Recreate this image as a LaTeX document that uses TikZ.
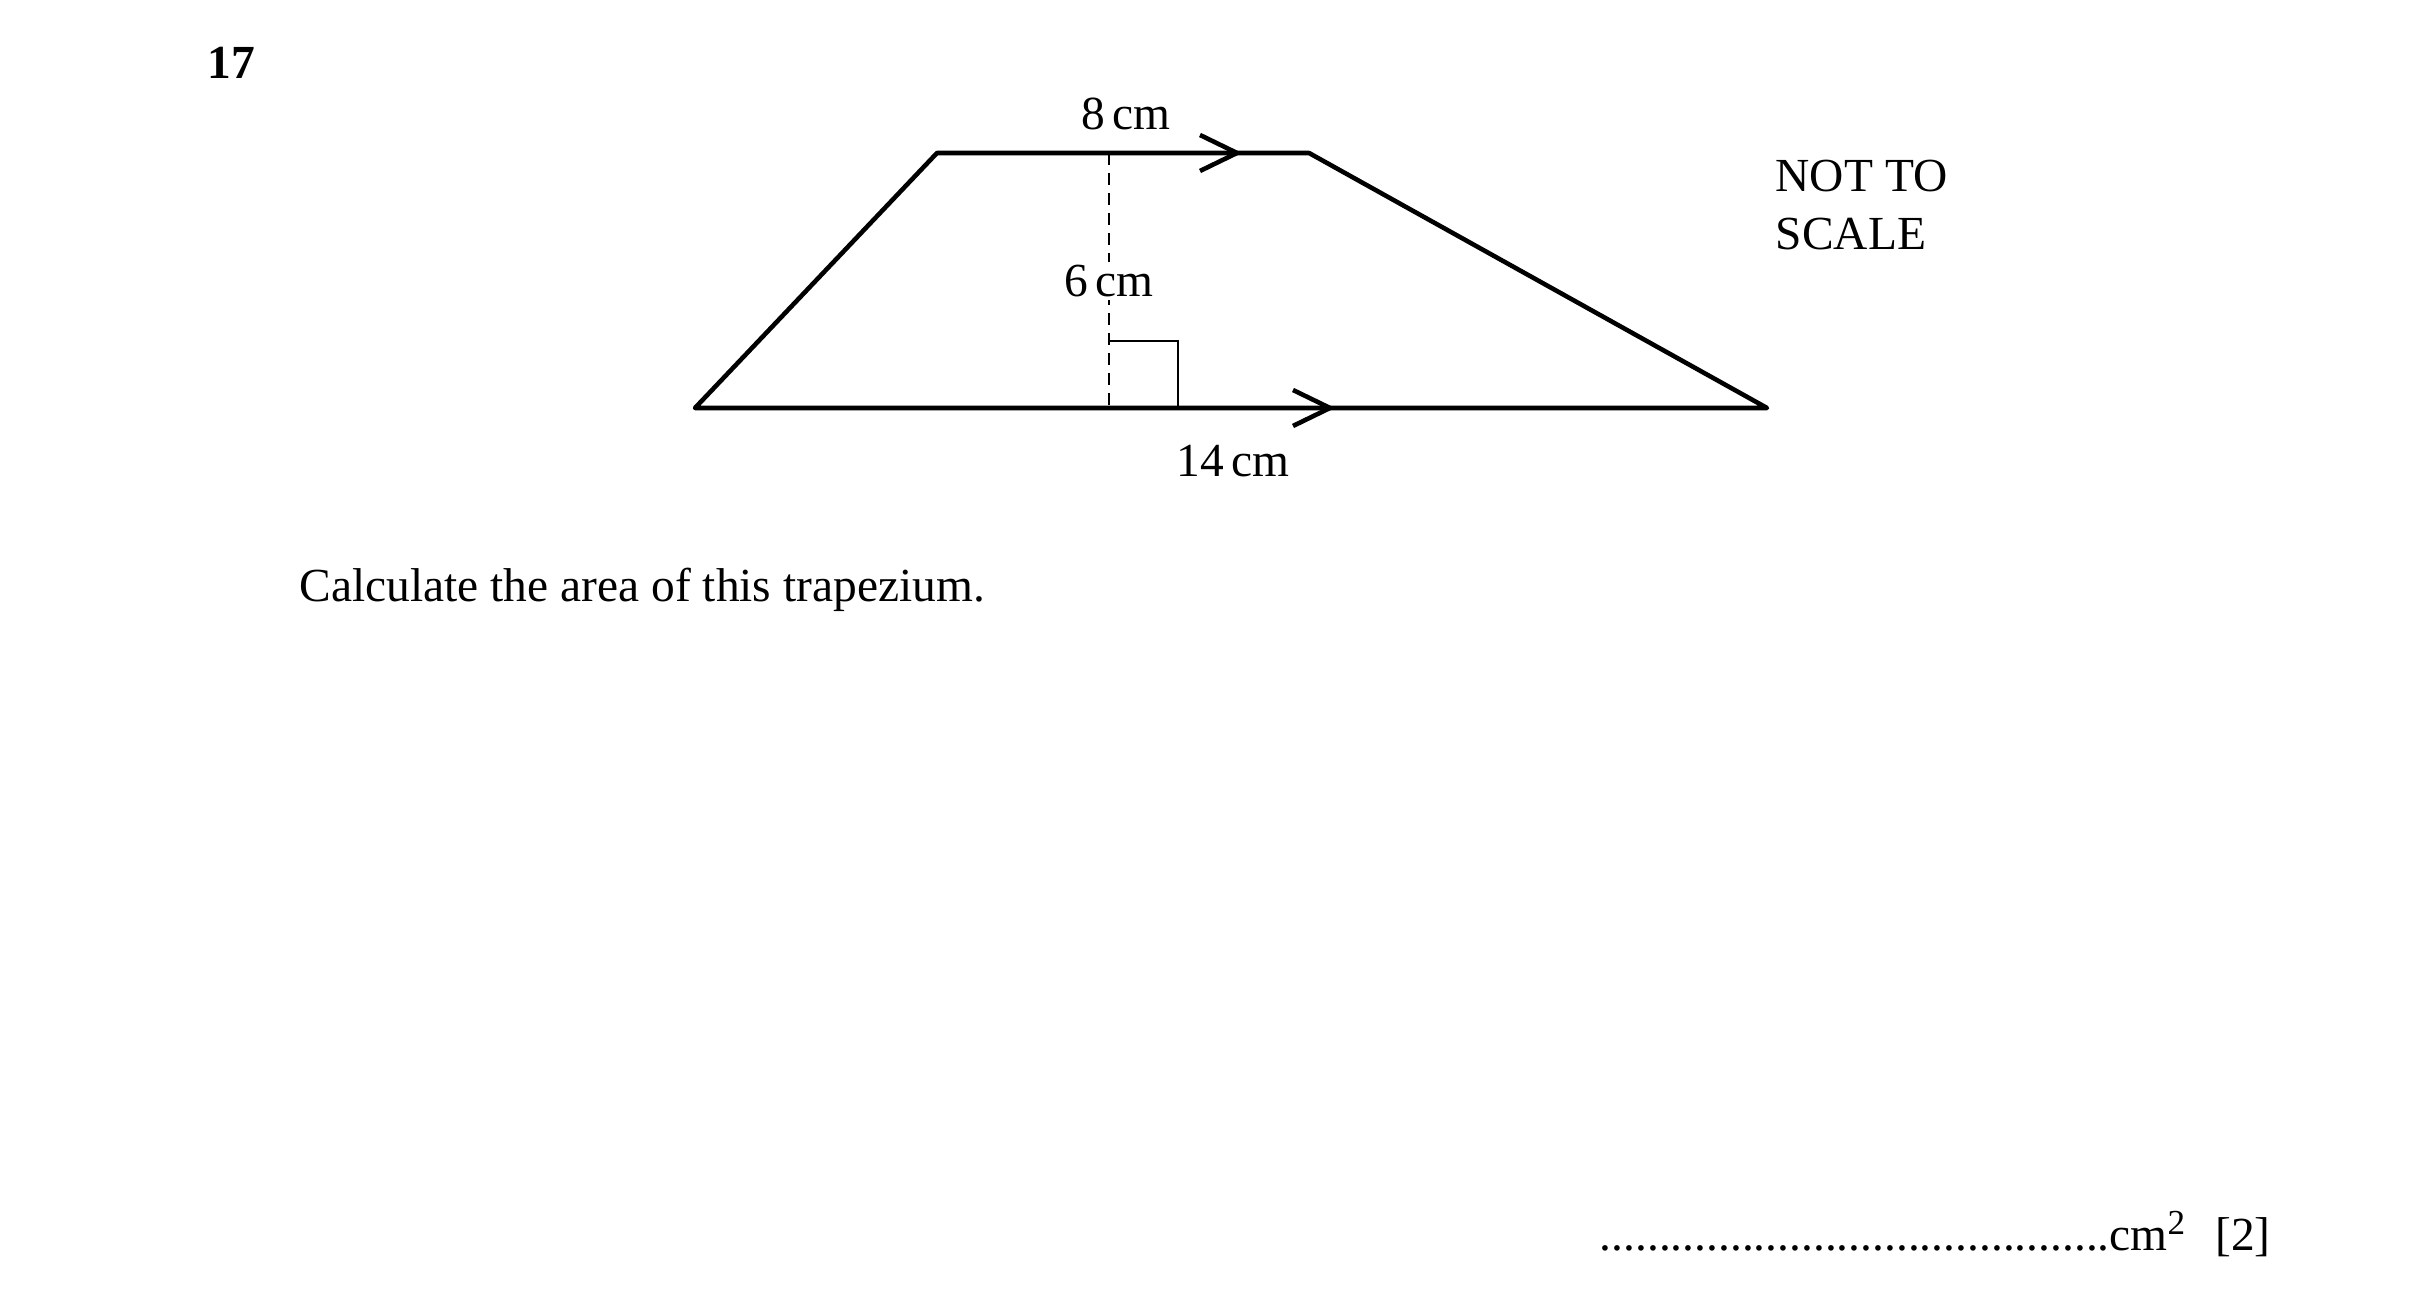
\documentclass[tikz,border=0pt]{standalone}
\usepackage{fontspec}
\setmainfont{Liberation Serif}

\begin{document}
\begin{tikzpicture}
\tikzset{side/.style = {line width=1.3pt, line join=round}}
\tikzset{thin side/.style = {line width=0.6pt}}
\tikzset{height line/.style = {line width=0.6pt, dash pattern=on 0.12cm off 0.08cm}}
\tikzset{txt/.style = {font=\fontsize{13.5}{16.5}\selectfont, inner sep=0pt}}
\useasboundingbox (0,0) rectangle (24.19,13.08);
\coordinate (v_0_1) at (6.95,9.00);
\coordinate (v_0_2) at (9.37,11.55);
\coordinate (v_0_3) at (13.09,11.55);
\coordinate (v_0_4) at (17.67,9.00);
\coordinate (h_top) at (11.09,11.55);
\coordinate (h_bot) at (11.09,9.00);
\coordinate (r_1) at (11.09,9.67);
\coordinate (r_2) at (11.78,9.67);
\coordinate (r_3) at (11.78,9.00);
\coordinate (a_top) at (12.37,11.55);
\coordinate (a_bot) at (13.30,9.00);
\draw[height line] (h_top) -- (h_bot);
\draw[thin side] (r_1) -- (r_2) -- (r_3);
\draw[side] (v_0_1) -- (v_0_2) -- (v_0_3) -- (v_0_4) -- cycle;
\draw[side] ([shift={(-0.37,0.18)}]a_top) -- (a_top) -- ([shift={(-0.37,-0.18)}]a_top);
\draw[side] ([shift={(-0.37,0.18)}]a_bot) -- (a_bot) -- ([shift={(-0.37,-0.18)}]a_bot);
\node[txt] (l_top) at (11.26,11.94) {8\,cm};
\node[txt, fill=white, inner sep=1pt] (l_height) at (11.09,10.27) {6\,cm};
\node[txt] (l_bot) at (12.33,8.47) {14\,cm};
\node[txt, anchor=base west] (nts_1) at (17.75,11.16) {NOT TO};
\node[txt, anchor=base west] (nts_2) at (17.75,10.58) {SCALE};
\node[txt, font=\fontsize{13.5}{16.5}\selectfont\bfseries] (q_num) at (2.31,12.45) {17};
\node[txt, anchor=base west] (q_text) at (2.99,7.06) {Calculate the area of this trapezium.};
\node[txt, anchor=base west] (q_ans) at (15.99,0.57) {...........................................cm\raisebox{0.75ex}{\fontsize{10}{10}\selectfont 2}\hspace{0.3cm}[2]};
\end{tikzpicture}
\end{document}
